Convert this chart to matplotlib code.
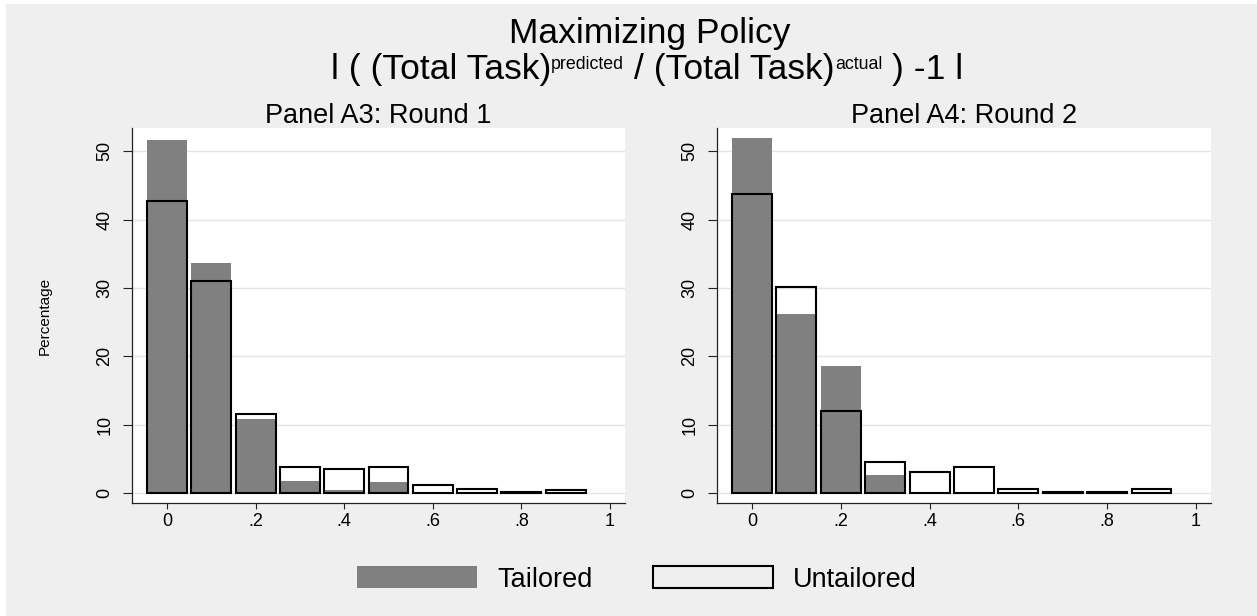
import matplotlib
matplotlib.use("Agg")
import matplotlib.pyplot as plt
from matplotlib.patches import Patch, Rectangle

# ---------------- data ----------------
bin_centers = [0.0, 0.1, 0.2, 0.3, 0.4, 0.5, 0.6, 0.7, 0.8, 0.9]
r1_tailored = [51.6, 33.7, 10.9, 1.8, 0.45, 1.65, 0.0, 0.0, 0.0, 0.0]
r1_untailored = [42.7, 31.0, 11.5, 3.75, 3.55, 3.85, 1.2, 0.65, 0.2, 0.5]
r2_tailored = [51.9, 26.2, 18.6, 2.7, 0.0, 0.2, 0.0, 0.0, 0.0, 0.0]
r2_untailored = [43.8, 30.2, 11.95, 4.6, 3.05, 3.75, 0.65, 0.1, 0.1, 0.65]

x_ticks = [0.0, 0.2, 0.4, 0.6, 0.8, 1.0]
x_ticklabels = ["0", ".2", ".4", ".6", ".8", "1"]
y_ticks = [0, 10, 20, 30, 40, 50]
y_ticklabels = ["0", "10", "20", "30", "40", "50"]
panel_titles = ["Panel A3: Round 1", "Panel A4: Round 2"]
legend_labels = ["Tailored", "Untailored"]
y_label = "Percentage"
title_line1 = "Maximizing Policy"

# ---------------- figure ----------------
W, H = 1257, 616
plt.rcParams['font.family'] = ['Liberation Sans', 'DejaVu Sans']
fig = plt.figure(figsize=(W / 100, H / 100), dpi=100, facecolor='white')
BG = '#efefef'


def fx(px):
    return px / W


def fy(py):
    return 1 - py / H


fig.patches.append(Rectangle((fx(6), 0), 1 - fx(6), fy(4), transform=fig.transFigure,
                             facecolor=BG, edgecolor='none', zorder=-10))

TAIL_COLOR = '#808080'
boxes = [(132, 625), (717, 1211)]
top_px, bot_px = 128, 503
series = [(r1_tailored, r1_untailored), (r2_tailored, r2_untailored)]

for (l, r), (tail, untail), ptitle in zip(boxes, series, panel_titles):
    ax = fig.add_axes([fx(l), fy(bot_px), (r - l) / W, (bot_px - top_px) / H])
    ax.set_facecolor('white')
    ax.bar(bin_centers, tail, width=0.09, color=TAIL_COLOR, edgecolor='none', zorder=2)
    ax.bar(bin_centers, untail, width=0.09, facecolor='none', edgecolor='black',
           linewidth=1.5, zorder=3)
    ax.set_xlim(-0.079, 1.034)
    ax.set_ylim(-1.46, 53.4)
    ax.set_xticks(x_ticks)
    ax.set_xticklabels(x_ticklabels)
    ax.set_yticks(y_ticks)
    ax.set_yticklabels(y_ticklabels, rotation=90, va='center')
    ax.yaxis.grid(True, color='#e4e4e4', linewidth=1.0, zorder=0)
    ax.set_axisbelow(True)
    for s in ['top', 'right']:
        ax.spines[s].set_visible(False)
    for s in ['left', 'bottom']:
        ax.spines[s].set_color('#222222')
        ax.spines[s].set_linewidth(0.9)
    ax.tick_params(axis='y', length=6.5, width=0.8, pad=7, labelsize=13, color='#222222')
    ax.tick_params(axis='x', length=4.3, width=0.8, pad=3, labelsize=13, color='#222222')
    fig.text(fx((l + r) / 2), fy(123), ptitle, ha='center', va='baseline', fontsize=19.5)

fig.text(fx(45), fy(315.5), y_label, rotation=90, ha='center', va='center', fontsize=11)

# legend
handles = [Patch(facecolor=TAIL_COLOR, edgecolor='none'),
           Patch(facecolor='none', edgecolor='black', linewidth=1.5)]
fs_leg = 19.5
px_em = fs_leg * 100 / 72
fig.legend(handles, legend_labels, loc='center', bbox_to_anchor=(fx(637), fy(579.5)),
           ncol=2, frameon=False, fontsize=fs_leg, handlelength=120 / px_em,
           handleheight=23 / px_em, handletextpad=20 / px_em, columnspacing=61 / px_em,
           borderpad=0, borderaxespad=0)

# title
fs_title = 25.5
fig.text(fx(650), fy(43), title_line1, ha='center', va='baseline', fontsize=fs_title)

renderer = fig.canvas.get_renderer()
em = fs_title * 100 / 72
sup_fs = fs_title * 0.5
pieces = [("l ( (Total Task)", fs_title, 0.0),
          ("predicted", sup_fs, 0.27),
          (" ", fs_title, 0.0),
          ("/ (Total Task)", fs_title, 0.0),
          ("actual", sup_fs, 0.27),
          (" ", fs_title, 0.0),
          (") -1 l", fs_title, 0.0)]

# width of a space at title size
ta = fig.text(0, 0, "x x", fontsize=fs_title)
tb = fig.text(0, 0, "xx", fontsize=fs_title)
space_w = ta.get_window_extent(renderer).width - tb.get_window_extent(renderer).width
ta.remove()
tb.remove()

base_y = 79  # baseline of line 2, pixels from top
objs = []
widths = []
for s, fs, dy in pieces:
    if s == " ":
        objs.append(None)
        widths.append(space_w)
        continue
    t = fig.text(0, fy(base_y - dy * em), s, fontsize=fs, ha='left', va='baseline')
    objs.append(t)
    widths.append(t.get_window_extent(renderer).width)
total = sum(widths)
x = 647 - total / 2
for t, w in zip(objs, widths):
    if t is not None:
        t.set_x(fx(x))
    x += w

fig.savefig("out.png", dpi=100, facecolor=fig.get_facecolor())
